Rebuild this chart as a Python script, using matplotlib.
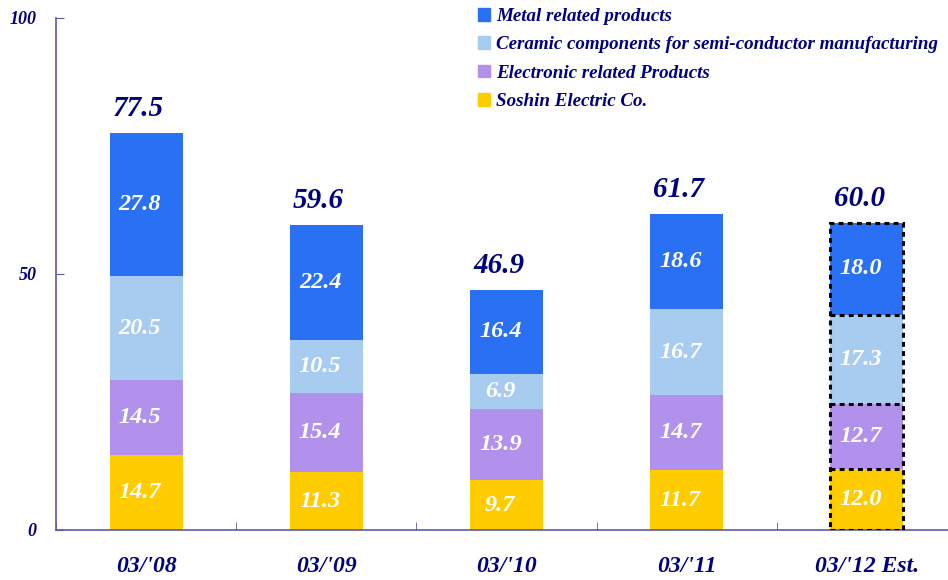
import matplotlib.pyplot as plt
import numpy as np
from matplotlib.patches import Patch

# data
years = ["03/'08", "03/'09", "03/'10", "03/'11", "03/'12 Est."]
soshin = [14.7, 11.3, 9.7, 11.7, 12.0]
electronic = [14.5, 15.4, 13.9, 14.7, 12.7]
ceramic = [20.5, 10.5, 6.9, 16.7, 17.3]
metal = [27.8, 22.4, 16.4, 18.6, 18.0]
totals = [77.5, 59.6, 46.9, 61.7, 60.0]

series = [
    ("Soshin Electric Co.", soshin, "#FFCC00"),
    ("Electronic related Products", electronic, "#B291EC"),
    ("Ceramic components for semi-conductor manufacturing", ceramic, "#A8CBF0"),
    ("Metal related products", metal, "#2970F5"),
]

NAVY = "#000080"
AXIS_COL = "#5A5AAA"
FONT = "Liberation Serif"
DASH = (0, (1.6, 1.4))

fig = plt.figure(figsize=(9.48, 5.80), dpi=100)
# axes box in pixels: left 56, right ~957, bottom 530, top 18
ax = fig.add_axes([56 / 948, (580 - 530) / 580, 901 / 948, 512 / 580])

x = np.arange(len(years))
width = 0.405
last = len(years) - 1
bottom = np.zeros(len(years))
for name, vals, col in series:
    vals = np.array(vals)
    ax.bar(x, vals, width, bottom=bottom, color=col, label=name, zorder=2)
    for i, v in enumerate(vals):
        ax.annotate(f"{v:.1f}", (x[i], bottom[i] + v / 2), xytext=(-4.5, 0),
                    textcoords="offset points", ha="center", va="center",
                    color="white", fontsize=17.5, fontstyle="italic", fontweight="bold",
                    family=FONT, zorder=4)
    bottom += vals
    if bottom[last] < totals[last] - 0.01:
        # internal boundary of the estimated bar
        ax.hlines(bottom[last], x[last] - width / 2, x[last] + width / 2, colors="black",
                  linewidth=2.2, linestyle=DASH, zorder=3)

# estimated year: dashed outline around whole bar
ax.bar(x[last], totals[last], width, facecolor="none", edgecolor="black",
       linewidth=2.2, linestyle=DASH, zorder=3)

for i, t in enumerate(totals):
    ax.annotate(f"{t:.1f}", (x[i], t + 3.3), xytext=(-5.5, 0), textcoords="offset points",
                ha="center", va="baseline", color=NAVY, fontsize=21,
                fontstyle="italic", fontweight="bold", family=FONT)

ax.set_xlim(-0.5, len(years) - 0.5)
ax.set_ylim(0, 100)
ax.set_yticks([0, 50, 100])
ax.set_yticklabels(["0", "50", "100"])
ax.set_xticks(x)
ax.set_xticklabels(years)
ax.set_xticks(np.arange(len(years) + 1) - 0.5, minor=True)

for s in ["top", "right"]:
    ax.spines[s].set_visible(False)
for s in ["left", "bottom"]:
    ax.spines[s].set_color(AXIS_COL)
    ax.spines[s].set_linewidth(1.2)

ax.tick_params(axis="y", direction="in", length=6, color=AXIS_COL, pad=14,
               labelsize=13, labelcolor=NAVY)
ax.tick_params(axis="x", which="major", length=0, pad=19, labelsize=17, labelcolor=NAVY)
ax.tick_params(axis="x", which="minor", direction="in", length=6, color=AXIS_COL)
for lab in ax.get_xticklabels() + ax.get_yticklabels():
    lab.set_family(FONT)
    lab.set_fontstyle("italic")
    lab.set_fontweight("bold")

handles = [Patch(color=col, label=name) for name, _, col in series[::-1]]
leg = fig.legend(handles=handles, loc="upper left", bbox_to_anchor=(478 / 948, 1.0 - 8 / 580),
                 frameon=False, borderpad=0, borderaxespad=0,
                 handlelength=0.63, handleheight=0.63, handletextpad=0.32,
                 labelspacing=0.6, prop={"family": FONT, "style": "italic", "weight": "bold", "size": 13.7})
for t in leg.get_texts():
    t.set_color(NAVY)

fig.savefig("out.png", dpi=100)
